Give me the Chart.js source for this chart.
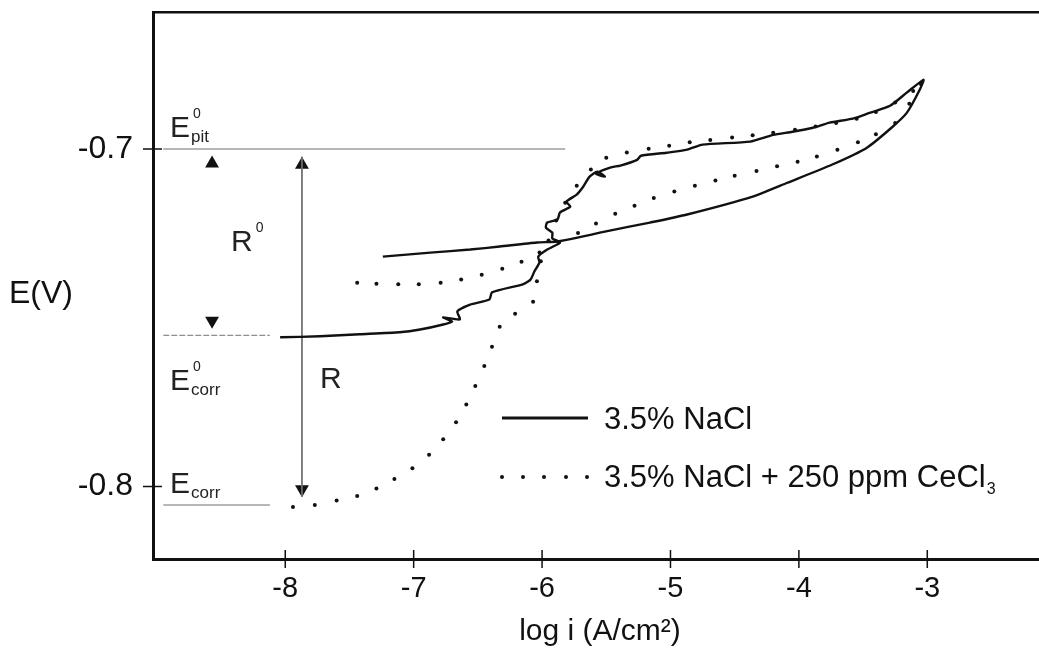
<!DOCTYPE html>
<html lang="en">
<head>
<meta charset="utf-8">
<title>Cyclic polarization</title>
<script src="https://cdn.jsdelivr.net/npm/chart.js"></script>
<style>
  html, body { margin: 0; padding: 0; background: #fff; }
</style>
</head>
<body>
<canvas id="myChart" width="1039" height="650"></canvas>
<script>
// 3.5% NaCl, forward + reverse scan
const naclLogI = [-8.04,-7.73,-7.42,-7.11,-6.95,-6.77,-6.70,-6.77,-6.64,-6.66,-6.56,-6.41,-6.39,-6.15,-6.09,-6.06,-6.02,-6.03,-5.96,-5.86,
  -5.92,-5.92,-5.97,-5.96,-5.88,-5.86,-5.78,-5.81,-5.73,-5.68,-5.63,-5.57,-5.51,-5.58,-5.47,-5.39,-5.26,-5.23,-5.03,-4.87,
  -4.75,-4.38,-4.20,-4.05,-3.89,-3.76,-3.58,-3.45,-3.29,-3.16,-3.03,-3.06,-3.16,-3.27,-3.47,-3.74,-4.09,-4.36,-4.87,-5.16,
  -5.32,-5.55,-5.68,-5.88,-6.04,-6.33,-6.56,-6.87,-7.24];
const naclE = [-0.7558,-0.7555,-0.7549,-0.7543,-0.7535,-0.7520,-0.7511,-0.7499,-0.7505,-0.7481,-0.7461,-0.7446,-0.7425,-0.7401,-0.7387,-0.7363,-0.7336,-0.7319,-0.7298,-0.7277,
  -0.7265,-0.7248,-0.7233,-0.7218,-0.7209,-0.7188,-0.7171,-0.7156,-0.7135,-0.7112,-0.7082,-0.7067,-0.7082,-0.7073,-0.7055,-0.7049,-0.7032,-0.7020,-0.7011,-0.7002,
  -0.6987,-0.6978,-0.6958,-0.6949,-0.6937,-0.6922,-0.6910,-0.6893,-0.6872,-0.6833,-0.6795,-0.6825,-0.6893,-0.6934,-0.6996,-0.7046,-0.7100,-0.7141,-0.7194,-0.7218,
  -0.7230,-0.7248,-0.7259,-0.7274,-0.7277,-0.7289,-0.7298,-0.7307,-0.7319];

// 3.5% NaCl + 250 ppm CeCl3, forward + reverse scan
const ceLogI = [-7.94,-7.77,-7.60,-7.44,-7.29,-7.15,-7.01,-6.88,-6.77,-6.67,-6.59,-6.52,-6.45,-6.39,-6.33,-6.21,-6.07,-6.04,-6.01,-5.95,
  -5.89,-5.82,-5.73,-5.62,-5.50,-5.34,-5.17,-5.01,-4.85,-4.69,-4.52,-4.36,-4.20,-4.03,-3.87,-3.71,-3.55,-3.40,-3.25,-3.11,
  -3.05,-3.14,-3.25,-3.40,-3.54,-3.70,-3.86,-4.01,-4.17,-4.33,-4.50,-4.65,-4.81,-4.97,-5.13,-5.28,-5.43,-5.58,-5.72,-5.87,
  -6.02,-6.16,-6.31,-6.47,-6.63,-6.79,-6.96,-7.12,-7.29,-7.44];
const ceE = [-0.8061,-0.8055,-0.8042,-0.8028,-0.8006,-0.7978,-0.7946,-0.7906,-0.7860,-0.7810,-0.7757,-0.7702,-0.7643,-0.7586,-0.7527,-0.7488,-0.7453,-0.7392,-0.7333,-0.7271,
  -0.7212,-0.7159,-0.7109,-0.7061,-0.7026,-0.7010,-0.6999,-0.6990,-0.6980,-0.6973,-0.6966,-0.6959,-0.6952,-0.6943,-0.6933,-0.6923,-0.6910,-0.6890,-0.6862,-0.6828,
  -0.6807,-0.6866,-0.6923,-0.6956,-0.6980,-0.7002,-0.7022,-0.7038,-0.7051,-0.7065,-0.7079,-0.7093,-0.7109,-0.7126,-0.7145,-0.7168,-0.7192,-0.7221,-0.7249,-0.7277,
  -0.7307,-0.7334,-0.7355,-0.7373,-0.7387,-0.7396,-0.7401,-0.7401,-0.7399,-0.7396];

const xTicks = [-8, -7, -6, -5, -4, -3];
const yTicks = [-0.8, -0.7];

// characteristic potentials (V)
const ePit0 = -0.7;
const eCorr0 = -0.7552;
const eCorr = -0.8055;

// where the guide lines and the R arrows sit (log i)
const guideStart = -8.95;
const pitGuideEnd = -5.82;
const corrGuideEnd = -8.12;
const rArrowX = -7.87;
const r0ArrowX = -8.57;

const labels = ['3.5% NaCl', '3.5% NaCl + 250 ppm CeCl\u2083'];

const pts = (xs, ys) => xs.map((x, i) => ({ x: x, y: ys[i] }));
const FONT = "'Liberation Sans', Arial, sans-serif";
const INK = '#111';

const crossTicks = {
  id: 'crossTicks',
  afterDraw(chart) {
    const { ctx, chartArea: a, scales: { x, y } } = chart;
    ctx.save();
    ctx.strokeStyle = INK;
    ctx.lineWidth = 1.5;
    ctx.beginPath();
    xTicks.forEach(v => {
      const px = x.getPixelForValue(v);
      ctx.moveTo(px, a.bottom - 9);
      ctx.lineTo(px, a.bottom + 9);
    });
    yTicks.forEach(v => {
      const py = y.getPixelForValue(v);
      ctx.moveTo(a.left - 10, py);
      ctx.lineTo(a.left + 9, py);
    });
    ctx.stroke();
    ctx.restore();
  }
};

// text with a small index above / below
function indexed(ctx, base, sup, sub, x, y, size) {
  ctx.font = size + 'px ' + FONT;
  ctx.fillText(base, x, y);
  const w = ctx.measureText(base).width;
  if (sup) {
    ctx.font = Math.round(size * 0.45) + 'px ' + FONT;
    ctx.fillText(sup, x + w + 3, y - size * 0.62);
  }
  if (sub) {
    ctx.font = Math.round(size * 0.55) + 'px ' + FONT;
    ctx.fillText(sub, x + w + 1, y + 5);
  }
}

const texts = {
  id: 'texts',
  afterDraw(chart) {
    const ctx = chart.ctx;
    ctx.save();
    ctx.fillStyle = INK;
    ctx.textBaseline = 'alphabetic';
    ctx.textAlign = 'left';

    // axis titles
    ctx.font = '32px ' + FONT;
    ctx.fillText('E(V)', 9, 303);
    ctx.font = '30px ' + FONT;
    ctx.textAlign = 'center';
    ctx.fillText('log i (A/cm\u00B2)', 600, 640);
    ctx.textAlign = 'left';

    // potential labels
    ctx.fillStyle = '#222';
    indexed(ctx, 'E', '0', 'pit', 170, 137, 30);
    indexed(ctx, 'E', '0', 'corr', 170, 390, 30);
    indexed(ctx, 'E', null, 'corr', 170, 493, 30);
    indexed(ctx, 'R', '0', null, 231, 251, 30);
    indexed(ctx, 'R', null, null, 320, 388, 30);

    // legend
    ctx.fillStyle = INK;
    ctx.strokeStyle = INK;
    ctx.lineWidth = 3;
    ctx.beginPath();
    ctx.moveTo(502, 418);
    ctx.lineTo(588, 418);
    ctx.stroke();
    [502, 523, 544, 566, 587].forEach(cx => {
      ctx.beginPath();
      ctx.arc(cx, 477, 2, 0, Math.PI * 2);
      ctx.fill();
    });
    ctx.font = '31px ' + FONT;
    ctx.fillText(labels[0], 604, 429);
    const main = '3.5% NaCl + 250 ppm CeCl';
    ctx.fillText(main, 604, 487);
    const w = ctx.measureText(main).width;
    ctx.font = '16px ' + FONT;
    ctx.fillText('3', 604 + w + 1, 494);
    ctx.restore();
  }
};

const guide = (data, dash) => ({
  data: data,
  showLine: true,
  borderColor: '#6f6f6f',
  borderWidth: 1,
  borderDash: dash || [],
  pointRadius: 0
});

new Chart(document.getElementById('myChart'), {
  type: 'scatter',
  data: {
    datasets: [
      {
        label: labels[0],
        data: pts(naclLogI, naclE),
        showLine: true,
        borderColor: INK,
        borderWidth: 2.4,
        tension: 0.2,
        pointRadius: 0
      },
      {
        label: labels[1],
        data: pts(ceLogI, ceE),
        showLine: false,
        backgroundColor: INK,
        borderColor: INK,
        borderWidth: 0,
        pointRadius: 2
      },
      guide([{ x: guideStart, y: ePit0 }, { x: pitGuideEnd, y: ePit0 }]),
      guide([{ x: guideStart, y: eCorr0 }, { x: corrGuideEnd, y: eCorr0 }], [6, 2]),
      guide([{ x: guideStart, y: eCorr }, { x: corrGuideEnd, y: eCorr }]),
      guide([{ x: rArrowX, y: -0.7023 }, { x: rArrowX, y: -0.8030 }]),
      {
        // arrow heads
        data: [
          { x: rArrowX, y: -0.7047 }, { x: rArrowX, y: -0.8008 },
          { x: r0ArrowX, y: -0.7043 }, { x: r0ArrowX, y: -0.7509 }
        ],
        pointStyle: 'triangle',
        pointRotation: [0, 180, 0, 180],
        pointRadius: 8,
        backgroundColor: INK,
        borderColor: INK,
        borderWidth: 0
      }
    ]
  },
  options: {
    responsive: false,
    animation: false,
    layout: { padding: 0, autoPadding: false },
    plugins: {
      legend: { display: false },
      tooltip: { enabled: false }
    },
    scales: {
      x: {
        type: 'linear',
        position: 'bottom',
        min: -9.03,
        max: -2.13,
        afterBuildTicks: s => { s.ticks = xTicks.map(v => ({ value: v })); },
        afterFit: s => { s.height = 91; s.paddingLeft = 0; s.paddingRight = 0; },
        ticks: {
          color: INK,
          font: { family: FONT, size: 29 },
          padding: 13,
          maxRotation: 0,
          autoSkip: false,
          callback: v => String(v)
        },
        grid: { display: false, drawTicks: false },
        border: { display: true, color: INK, width: 3 }
      },
      x2: {
        type: 'linear',
        position: 'top',
        min: -9.03,
        max: -2.13,
        afterFit: s => { s.height = 12; s.paddingLeft = 0; s.paddingRight = 0; },
        ticks: { display: false },
        grid: { display: false, drawTicks: false },
        border: { display: true, color: INK, width: 2.5 }
      },
      y: {
        type: 'linear',
        position: 'left',
        min: -0.8215,
        max: -0.6594,
        afterBuildTicks: s => { s.ticks = yTicks.map(v => ({ value: v })); },
        afterFit: s => { s.width = 153; s.paddingTop = 0; s.paddingBottom = 0; },
        ticks: {
          color: INK,
          font: { family: FONT, size: 32 },
          padding: 20,
          callback: v => v.toFixed(1)
        },
        grid: { display: false, drawTicks: false },
        border: { display: true, color: INK, width: 3 }
      }
    }
  },
  plugins: [crossTicks, texts]
});
</script>
</body>
</html>
